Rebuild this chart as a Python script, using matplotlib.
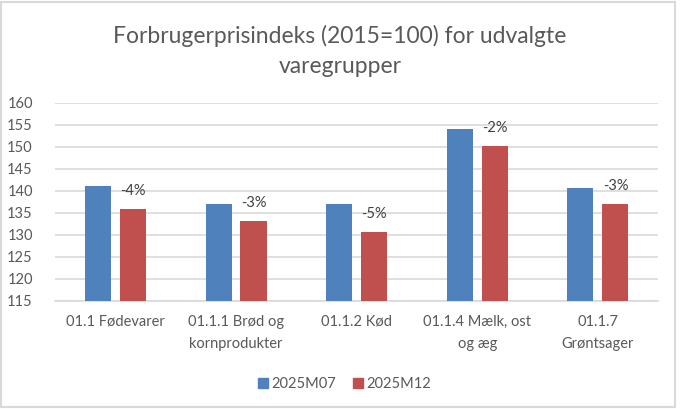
import numpy as np
import matplotlib.pyplot as plt
from matplotlib.patches import Rectangle

categories = ["01.1 Fødevarer", "01.1.1 Brød og\nkornprodukter", "01.1.2 Kød",
              "01.1.4 Mælk, ost\nog æg", "01.1.7\nGrøntsager"]
m07 = [141.1, 136.9, 136.9, 153.9, 140.5]
m12 = [135.8, 133.0, 130.5, 150.2, 136.9]
pct_labels = ["-4%", "-3%", "-5%", "-2%", "-3%"]
series_names = ["2025M07", "2025M12"]

plt.rcParams['font.family'] = ['Lato', 'DejaVu Sans']

blue = '#4f81bd'
red = '#c0504d'
grid_col = '#d9d9d9'
txt_col = '#595959'

fig = plt.figure(figsize=(6.8, 4.09), dpi=100)
ax = fig.add_axes([0.081, 0.265, 0.887, 0.484])

x = np.arange(len(categories))
width = 0.216
off = 0.145
ax.bar(x - off, m07, width, bottom=0, color=blue, label=series_names[0], zorder=3)
ax.bar(x + off, m12, width, bottom=0, color=red, label=series_names[1], zorder=3)

for xi, v, lab in zip(x, m12, pct_labels):
    ax.annotate(lab, (xi + off, v), xytext=(0, 13), textcoords='offset points',
                ha='center', va='center', fontsize=10.5, color='#404040')

ax.set_xlim(-0.5, len(categories) - 0.5)
ax.set_ylim(115, 160)
ax.set_yticks(np.arange(115, 161, 5))
ax.yaxis.grid(True, color=grid_col, lw=1.2, zorder=0)
ax.set_axisbelow(True)
for s in ['top', 'right', 'left']:
    ax.spines[s].set_visible(False)
ax.spines['bottom'].set_color(grid_col)
ax.spines['bottom'].set_linewidth(1.2)
ax.tick_params(axis='both', length=0, colors=txt_col, labelsize=10.5)
ax.tick_params(axis='y', pad=16)
ax.tick_params(axis='x', pad=10)
ax.set_xticks(x)
ax.set_xticklabels(categories, linespacing=1.75)

fig.text(0.5, 1 - 51 / 409, "Forbrugerprisindeks (2015=100) for udvalgte\nvaregrupper",
         ha='center', va='center', fontsize=16.5, color=txt_col, linespacing=1.55)

handles = [plt.Line2D([], [], marker='s', ls='', color=c, markersize=7.5) for c in (blue, red)]
fig.legend(handles, series_names, loc='center', bbox_to_anchor=(0.505, 0.061), ncol=2,
           frameon=False, fontsize=10.5, labelcolor=txt_col, handletextpad=0.1,
           columnspacing=1.0, handlelength=1.0)

fig.patches.append(Rectangle((0.002, 0.004), 0.99, 0.992, transform=fig.transFigure,
                             fill=False, edgecolor=grid_col, lw=1.5))

plt.savefig("out.png", dpi=100)
